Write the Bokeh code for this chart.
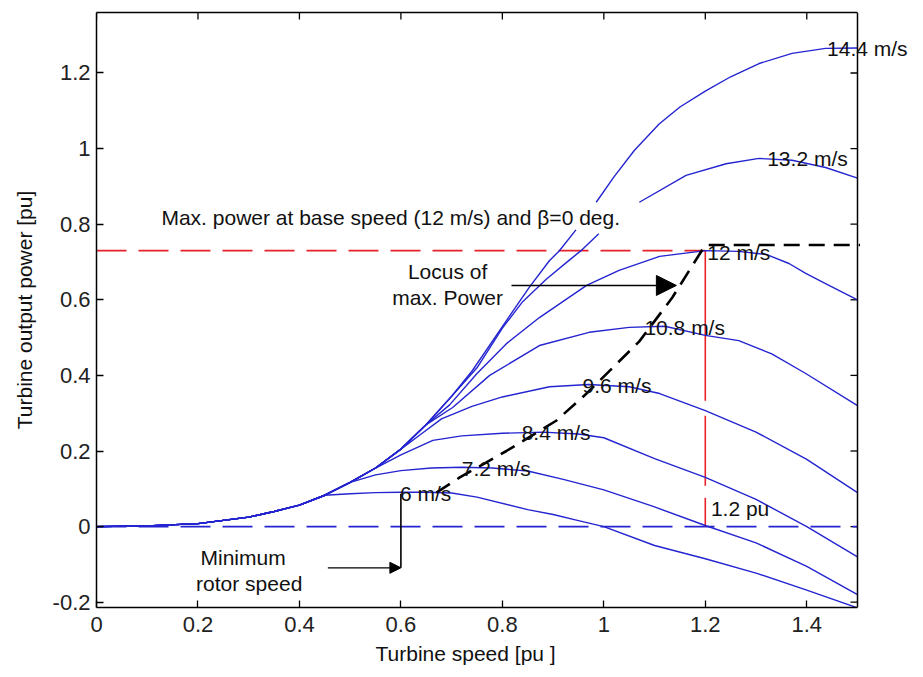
from bokeh.plotting import figure
from bokeh.models import (Range1d, LinearAxis, Label, Arrow, NormalHead, Span, Title,
                          NumeralTickFormatter, FixedTicker)
from bokeh.embed import file_html
from bokeh.resources import INLINE

nan = float("nan")

# ---------------- data ----------------
# low-speed part shared by all curves
common_speed = [0.0, 0.1, 0.2, 0.3, 0.35, 0.4, 0.45]
common_power = [0.0, 0.002, 0.008, 0.025, 0.04, 0.057, 0.083]

speed_6 = [0.5, 0.55, 0.6, 0.65, 0.7, 0.75, 0.85, 0.9, 0.95, 1.0, 1.1, 1.2, 1.3, 1.4, 1.5]
power_6 = [0.087, 0.09, 0.091, 0.091, 0.089, 0.078, 0.045, 0.032, 0.016, 0.0, -0.05, -0.085, -0.123, -0.168, -0.215]

speed_72 = [0.5, 0.55, 0.6, 0.66, 0.72, 0.78, 0.85, 0.92, 1.0, 1.1, 1.2, 1.3, 1.4, 1.5]
power_72 = [0.117, 0.137, 0.148, 0.155, 0.157, 0.155, 0.147, 0.125, 0.097, 0.052, 0.003, -0.043, -0.105, -0.18]

speed_84 = [0.5, 0.55, 0.6, 0.663, 0.72, 0.8, 0.88, 0.95, 1.0, 1.1, 1.2, 1.3, 1.4, 1.5]
power_84 = [0.117, 0.155, 0.19, 0.228, 0.24, 0.247, 0.25, 0.245, 0.235, 0.18, 0.13, 0.072, 0.0, -0.08]

speed_96 = [0.5, 0.55, 0.6, 0.64, 0.68, 0.74, 0.8, 0.893, 0.97, 1.05, 1.11, 1.2, 1.3, 1.4, 1.5]
power_96 = [0.117, 0.155, 0.205, 0.245, 0.285, 0.318, 0.343, 0.37, 0.376, 0.37, 0.352, 0.307, 0.25, 0.178, 0.09]

speed_108 = [0.5, 0.55, 0.6, 0.65, 0.702, 0.775, 0.873, 0.971, 1.05, 1.12, 1.2, 1.266, 1.331, 1.398, 1.5]
power_108 = [0.117, 0.155, 0.205, 0.27, 0.315, 0.4, 0.479, 0.514, 0.527, 0.53, 0.506, 0.492, 0.457, 0.405, 0.32]

speed_12 = [0.5, 0.55, 0.6, 0.65, 0.696, 0.75, 0.808, 0.873, 0.966, 1.03, 1.11, 1.2, 1.266, 1.32, 1.365, 1.398, 1.437, 1.5]
power_12 = [0.117, 0.155, 0.205, 0.27, 0.322, 0.405, 0.484, 0.553, 0.638, 0.678, 0.715, 0.73, 0.728, 0.72, 0.696, 0.67, 0.643, 0.6]

speed_132 = [0.5, 0.55, 0.6, 0.65, 0.7, 0.75, 0.8, 0.84, 0.887, 0.932, 0.955, 0.99, nan, 1.07, 1.162, 1.241, 1.306, 1.371, 1.437, 1.5]
power_132 = [0.117, 0.155, 0.205, 0.27, 0.345, 0.42, 0.525, 0.595, 0.655, 0.705, 0.73, 0.775, nan, 0.858, 0.929, 0.96, 0.974, 0.969, 0.95, 0.922]

speed_144 = [0.5, 0.55, 0.6, 0.65, 0.7, 0.741, 0.808, 0.853, 0.893, 0.912, 0.945, nan,
             0.985, 1.02, 1.06, 1.109, 1.15, 1.2, 1.25, 1.306, 1.371, 1.437, 1.5]
power_144 = [0.117, 0.155, 0.205, 0.27, 0.345, 0.413, 0.545, 0.633, 0.704, 0.729, 0.785, nan,
             0.858, 0.925, 0.995, 1.065, 1.11, 1.152, 1.19, 1.225, 1.252, 1.265, 1.266]

# locus of maximum power
locus_speed = [0.67, 0.716, 0.808, 0.906, 0.966, 1.07, 1.135, 1.2, 1.505]
locus_power = [0.09, 0.13, 0.2, 0.28, 0.352, 0.49, 0.606, 0.745, 0.745]

base_power = 0.73       # max power at base speed
base_speed = 1.2        # 1.2 pu
min_speed = 0.6         # minimum rotor speed

wind_labels = ["6 m/s", "7.2 m/s", "8.4 m/s", "9.6 m/s", "10.8 m/s", "12 m/s", "13.2 m/s", "14.4 m/s"]
wind_label_x = [0.598, 0.72, 0.838, 0.958, 1.08, 1.204, 1.322, 1.44]
wind_label_y = [0.087, 0.154, 0.249, 0.373, 0.527, 0.725, 0.974, 1.265]

x_ticks = [0, 0.2, 0.4, 0.6, 0.8, 1.0, 1.2, 1.4]
y_ticks = [-0.2, 0, 0.2, 0.4, 0.6, 0.8, 1.0, 1.2]

curves = [(speed_6, power_6), (speed_72, power_72), (speed_84, power_84),
          (speed_96, power_96), (speed_108, power_108), (speed_12, power_12),
          (speed_132, power_132), (speed_144, power_144)]

# ---------------- figure ----------------
FONT = "Liberation Sans"
BLUE = "#2424d0"
RED = "#e82028"

X_MAX = 1.5                 # axis box right edge
Y_MIN, Y_MAX = -0.214, 1.36
# frame extends to the right edge of the page so the "14.4 m/s" label is not clipped
X_VIEW = 1.5 * (923 - 96) / 761.0

p = figure(width=923, height=677, output_backend="svg", toolbar_location=None,
           x_range=Range1d(0, X_VIEW), y_range=Range1d(Y_MIN, Y_MAX),
           min_border_left=96, min_border_right=0, min_border_top=12, min_border_bottom=70)
p.background_fill_color = "white"
p.border_fill_color = "white"
p.outline_line_color = None
p.xgrid.visible = False
p.ygrid.visible = False

fmt = NumeralTickFormatter(format="0.[0]")
xa = p.below[0]
ya = p.left[0]
for ax, ticks in ((xa, x_ticks), (ya, y_ticks)):
    ax.ticker = FixedTicker(ticks=ticks)
    ax.formatter = fmt
    ax.major_tick_in = 7
    ax.major_tick_out = 0
    ax.minor_tick_line_color = None
    ax.axis_line_color = "black"
    ax.axis_line_width = 1.5
    ax.major_tick_line_color = "black"
    ax.major_tick_line_width = 1.3
    ax.major_label_text_font = FONT
    ax.major_label_text_font_size = "22px"
    ax.major_label_text_color = "#222222"
    ax.axis_label_text_font = FONT
    ax.axis_label_text_font_size = "21px"
    ax.axis_label_text_font_style = "normal"
    ax.axis_label_text_color = "#111111"
xa.bounds = (0, X_MAX)
xa.major_label_standoff = 9

ya.axis_label = "Turbine output power [pu]"
ya.major_label_standoff = 6
ya.axis_label_standoff = 14

# x-axis title, centred under the axis box (not under the widened frame)
p.add_layout(Title(text="Turbine speed [pu ]", align="left", offset=279, standoff=11,
                   text_font=FONT, text_font_size="21px", text_font_style="normal",
                   text_color="#111111"), "below")

# top border of the axis box (no ticks/labels on the axis itself)
top = LinearAxis(ticker=FixedTicker(ticks=[]), bounds=(0, X_MAX), axis_line_color="black",
                 axis_line_width=1.5, minor_tick_line_color=None, major_tick_line_color=None)
p.add_layout(top, "above")
# right border of the axis box
p.add_layout(Span(location=X_MAX, dimension="height", line_color="black", line_width=1.5))

# inward ticks on the top and right borders
tick_dy = 7 / 377.8
tick_dx = 7 / 507.3
p.segment(x0=x_ticks, y0=[Y_MAX] * len(x_ticks), x1=x_ticks, y1=[Y_MAX - tick_dy] * len(x_ticks),
          line_color="black", line_width=1.3)
p.segment(x0=[X_MAX] * len(y_ticks), y0=y_ticks, x1=[X_MAX - tick_dx] * len(y_ticks), y1=y_ticks,
          line_color="black", line_width=1.3)

# reference lines
p.line([0, X_MAX], [0, 0], color=BLUE, line_width=1.6, line_dash="30 12")
p.line([0, base_speed], [base_power, base_power], color=RED, line_width=1.6, line_dash="30 12")
p.line([base_speed, base_speed], [base_power, 0], color=RED, line_width=1.6, line_dash="150 15 70 12 30")

# power curves
for sx, py in curves:
    p.line(common_speed + sx, common_power + py, color=BLUE, line_width=1.4)

# locus
p.line(locus_speed, locus_power, color="black", line_width=2.6, line_dash="16 9")

# minimum rotor speed marker
p.line([min_speed, min_speed], [-0.109, 0.087], color="black", line_width=1.6)
p.add_layout(Arrow(end=NormalHead(size=11, fill_color="black", line_color="black"),
                   x_start=0.456, y_start=-0.109, x_end=min_speed, y_end=-0.109,
                   line_color="black", line_width=1.2))

# locus arrow
p.add_layout(Arrow(end=NormalHead(size=20, fill_color="black", line_color="black"),
                   x_start=0.818, y_start=0.638, x_end=1.143, y_end=0.638,
                   line_color="black", line_width=1.6))

def add_label(txt, x, y, align="left"):
    p.add_layout(Label(x=x, y=y, text=txt, text_font=FONT, text_font_size="21px",
                       text_align=align, text_baseline="middle", text_color="#111111"))

for t, lx, ly in zip(wind_labels, wind_label_x, wind_label_y):
    add_label(t, lx, ly)

add_label("Max. power at base speed (12 m/s) and \u03b2=0 deg.", 0.128, 0.818)
add_label("Locus of", 0.692, 0.675, "center")
add_label("max. Power", 0.692, 0.606, "center")
add_label("1.2 pu", 1.211, 0.048)
add_label("Minimum", 0.289, -0.082, "center")
add_label("rotor speed", 0.301, -0.151, "center")

open("out.html", "w").write(file_html(p, INLINE))
